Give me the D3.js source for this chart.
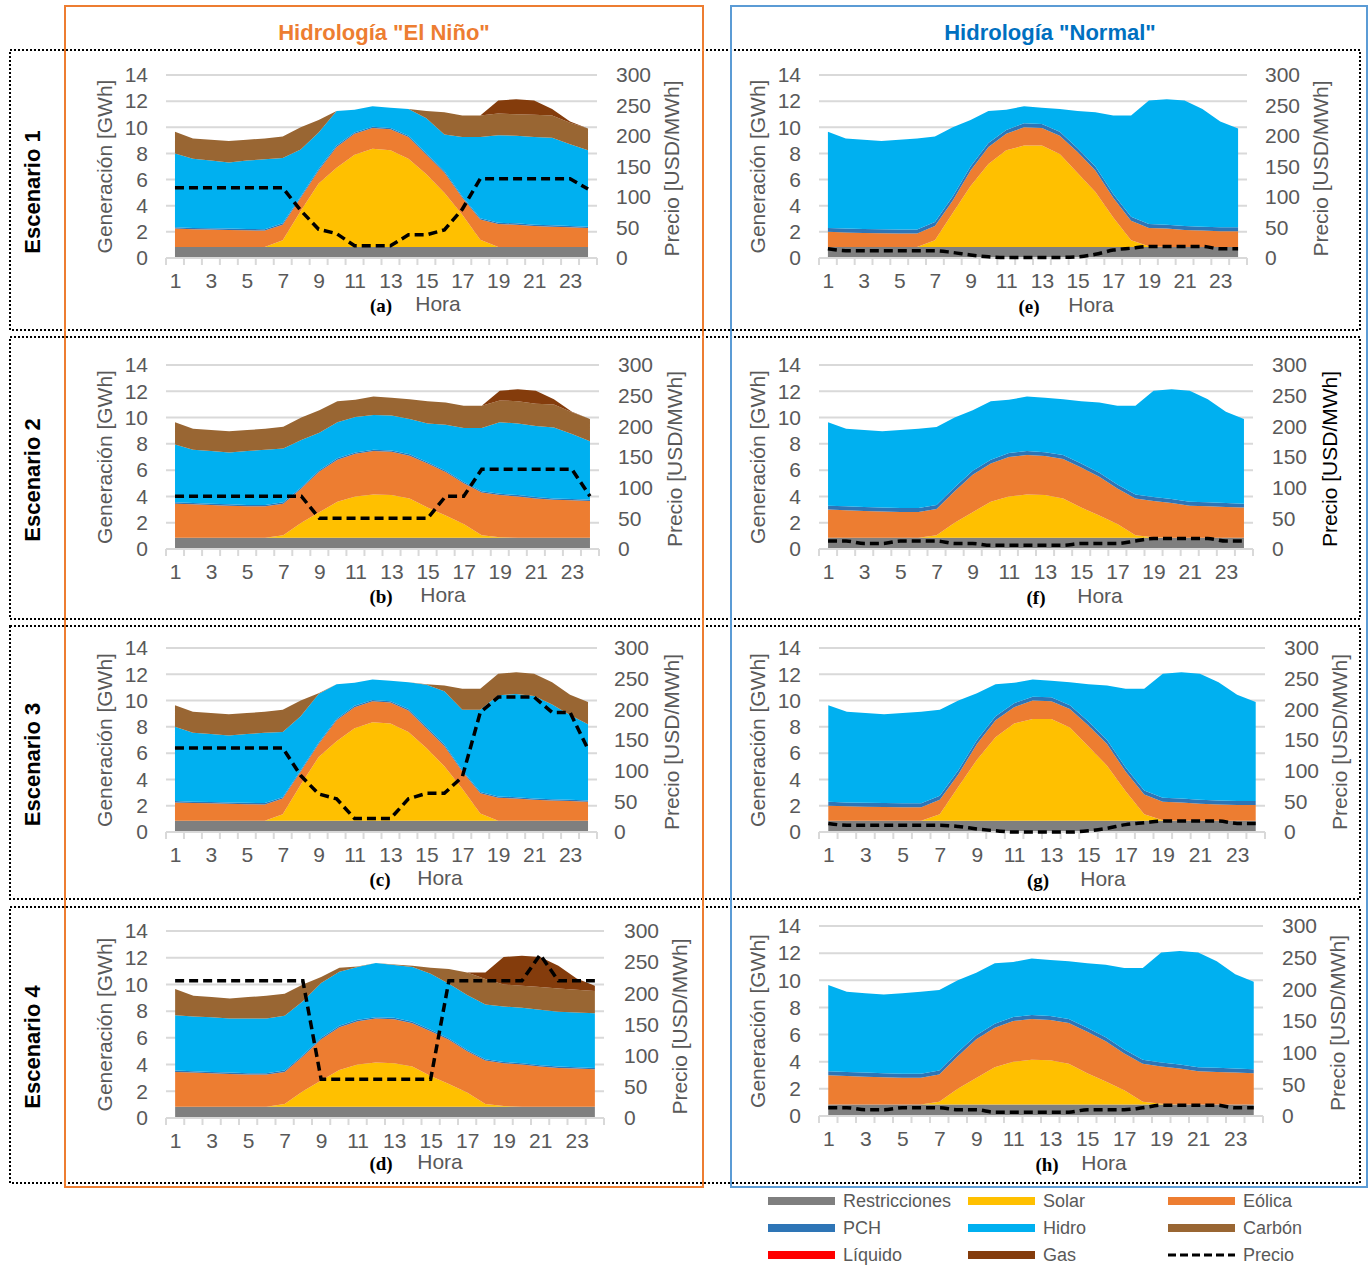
<!DOCTYPE html>
<html>
<head>
<meta charset="utf-8">
<script src="https://cdn.jsdelivr.net/npm/d3@7"></script>
<style>
  body { margin: 0; background: #fff; }
  text { font-family: "Liberation Sans", Arial, sans-serif; }
</style>
</head>
<body>
<div id="chart"></div>
<script>
// Horas del día (categorías)
const horas = [1,2,3,4,5,6,7,8,9,10,11,12,13,14,15,16,17,18,19,20,21,22,23,24];

// Generación [GWh] por tecnología
const restricciones = [0.85,0.85,0.85,0.85,0.85,0.85,0.85,0.85,0.85,0.85,0.85,0.85,0.85,0.85,0.85,0.85,0.85,0.85,0.85,0.85,0.85,0.85,0.85,0.85];
const solarNino   = [0,0,0,0,0,0,0.5,2.75,4.85,6.05,7.05,7.5,7.4,6.75,5.55,4.15,2.45,0.55,0,0,0,0,0,0];
const solarNormal = [0,0,0,0,0,0,0.5,2.6,4.65,6.35,7.4,7.75,7.75,7.1,5.65,4.2,2.25,0.5,0.05,0,0,0,0,0];
const solarBaja   = [0,0,0,0,0,0,0.2,1.15,1.95,2.75,3.15,3.3,3.25,3.0,2.3,1.7,1.05,0.2,0.05,0,0,0,0,0];

const eolicaA = [1.4,1.35,1.33,1.3,1.27,1.25,1.2,1.0,1.0,1.6,1.6,1.6,1.6,1.65,1.5,1.55,1.3,1.55,1.75,1.7,1.6,1.55,1.5,1.45];
const eolicaB = [2.6,2.55,2.5,2.45,2.4,2.4,2.4,2.6,3.1,3.2,3.25,3.3,3.3,3.25,3.35,3.3,3.1,3.25,3.2,3.15,3.0,2.9,2.85,2.8];
const eolicaE = [1.15,1.1,1.07,1.05,1.03,1.03,1.1,0.95,1.2,1.3,1.25,1.4,1.35,1.4,1.6,1.65,1.5,1.5,1.4,1.4,1.3,1.25,1.2,1.2];
const eolicaF = [2.15,2.1,2.05,2.0,1.97,1.97,2.0,2.4,2.85,2.9,3.0,3.0,2.97,3.0,3.05,2.95,2.7,2.8,2.75,2.65,2.45,2.4,2.35,2.3];

const pchNino   = [0.1,0.1,0.1,0.1,0.1,0.1,0.1,0.1,0.1,0.1,0.1,0.1,0.1,0.1,0.1,0.1,0.1,0.1,0.1,0.1,0.1,0.1,0.1,0.1];
const pchNormal = [0.3,0.3,0.3,0.3,0.3,0.3,0.3,0.3,0.3,0.3,0.3,0.3,0.3,0.3,0.3,0.3,0.3,0.3,0.3,0.3,0.3,0.3,0.3,0.3];

const hidroA = [5.65,5.3,5.17,5.05,5.23,5.35,5.0,3.6,2.8,2.65,1.75,1.55,1.55,2.05,2.7,2.8,4.55,6.2,6.7,6.7,6.7,6.7,6.25,5.85];
const hidroB = [4.4,4.05,4.0,3.95,4.1,4.2,4.1,3.6,2.85,2.75,2.7,2.65,2.65,2.7,2.95,3.5,4.1,4.8,5.45,5.45,5.4,5.4,4.95,4.45];
const hidroC = [5.65,5.25,5.17,5.1,5.23,5.35,4.95,4.1,3.7,2.65,1.75,1.55,1.55,2.05,3.2,4.05,4.6,6.25,7.7,7.85,7.8,7.2,6.45,5.8];
const hidroD = [4.15,4.1,4.1,4.05,4.1,4.1,4.1,4.05,4.1,4.05,3.95,4.05,3.95,4.1,4.2,4.1,4.1,4.1,4.15,4.15,4.15,4.1,4.1,4.1];
const hidroE = [7.35,6.9,6.83,6.75,6.87,6.97,6.55,5.3,3.55,2.45,1.55,1.3,1.25,1.75,2.85,4.15,6.0,7.75,9.45,9.6,9.6,9.0,8.1,7.55];
const hidroF = [6.35,5.9,5.85,5.8,5.93,6.03,5.93,5.3,4.6,4.45,4.05,4.15,4.13,4.25,4.75,5.35,6.0,6.75,8.1,8.35,8.45,7.85,6.95,6.45];

const carbonA = [1.65,1.55,1.6,1.65,1.6,1.6,1.65,1.7,0.95,0,0,0,0,0,0.55,1.7,1.65,1.65,1.65,1.65,1.7,1.7,1.65,1.65];
const carbonB = [1.7,1.6,1.6,1.6,1.6,1.6,1.65,1.7,1.7,1.6,1.3,1.4,1.35,1.5,1.7,1.7,1.7,1.7,1.65,1.7,1.7,1.75,1.65,1.7];
const carbonC = [1.65,1.6,1.6,1.6,1.6,1.6,1.7,1.2,0.05,0,0,0,0,0,0.05,0.45,1.6,1.6,1.65,1.65,1.7,1.7,1.55,1.7];
const carbonD = [1.95,1.55,1.5,1.5,1.6,1.7,1.65,1.25,0.45,0.3,0.05,0,0.05,0.1,0.45,1.1,1.7,1.9,1.65,1.65,1.7,1.75,1.7,1.65];

const gasA = [0,0,0,0,0,0,0,0,0,0,0,0,0,0,0,0,0,0,1.0,1.15,1.1,0.5,0.1,0];
const gasB = [0,0,0,0,0,0,0,0,0,0,0,0,0,0,0,0,0,0,0.75,0.9,1.0,0.4,0.05,0];
const gasD = [0,0,0,0,0,0,0,0,0,0,0,0,0,0,0,0,0,0.5,2.05,2.25,2.25,1.7,0.85,0.4];
const ceros = [0,0,0,0,0,0,0,0,0,0,0,0,0,0,0,0,0,0,0,0,0,0,0,0];

// Precio [USD/MWh]
const precioA = [115,115,115,115,115,115,115,78,47,40,20,20,20,38,38,46,80,130,130,130,130,130,130,113];
const precioB = [86,86,86,86,86,86,86,86,50,50,50,50,50,50,50,86,86,130,130,130,130,130,130,86];
const precioC = [137,137,137,137,137,137,137,92,62,54,22,22,22,54,63,63,90,195,220,220,220,195,195,135];
const precioD = [220,220,220,220,220,220,220,220,62,62,62,62,62,62,62,220,220,220,220,220,262,220,220,220];
const precioE = [15,12,12,12,12,12,12,9,5,2,1,1,1,1,2,6,13,16,19,19,19,19,15,15];
const precioF = [13,13,9,9,13,13,13,9,9,6,6,6,6,6,9,9,9,13,17,17,17,17,13,13];
const precioG = [14,11,11,11,11,11,11,9,5,2,0,0,0,0,2,6,12,15,18,18,18,18,14,14];
const precioH = [13,13,10,10,13,13,13,10,10,6,6,6,6,6,10,10,10,13,17,17,17,17,13,13];

// Tecnologías (orden de apilado) y colores
const claves = ["restricciones", "solar", "eolica", "pch", "hidro", "carbon", "liquido", "gas"];
const nombres = ["Restricciones", "Solar", "Eólica", "PCH", "Hidro", "Carbón", "Líquido", "Gas"];
const colores = {
    restricciones: "#7f7f7f", solar: "#ffc000", eolica: "#ed7d31", pch: "#2e75b6",
    hidro: "#00b0f0", carbon: "#996633", liquido: "#ff0000", gas: "#843c0c"
};
const ticksGen = [0, 2, 4, 6, 8, 10, 12, 14];
const ticksPrecio = [0, 50, 100, 150, 200, 250, 300];
const ticksHora = [1, 3, 5, 7, 9, 11, 13, 15, 17, 19, 21, 23];

const gris = "#595959";

// Paneles: posición + series
const paneles = [
    { letra: "(a)", xL: 166, xR: 597, yTop: 75, yBot: 258, izqX: 148, derX: 616, genX: 105, precioX: 672, letraX: 381, horaX: 438, textoY: 312,
      series: { restricciones, solar: solarNino, eolica: eolicaA, pch: pchNino, hidro: hidroA, carbon: carbonA, liquido: ceros, gas: gasA }, precio: precioA, suave: false },
    { letra: "(b)", xL: 166, xR: 599, yTop: 365, yBot: 549, izqX: 148, derX: 618, genX: 105, precioX: 675, letraX: 381, horaX: 443, textoY: 603,
      series: { restricciones, solar: solarBaja, eolica: eolicaB, pch: pchNino, hidro: hidroB, carbon: carbonB, liquido: ceros, gas: gasB }, precio: precioB, suave: false },
    { letra: "(c)", xL: 166, xR: 597, yTop: 648, yBot: 832, izqX: 148, derX: 614, genX: 105, precioX: 672, letraX: 380, horaX: 440, textoY: 886,
      series: { restricciones, solar: solarNino, eolica: eolicaA, pch: pchNino, hidro: hidroC, carbon: carbonC, liquido: ceros, gas: ceros }, precio: precioC, suave: false },
    { letra: "(d)", xL: 166, xR: 604, yTop: 931, yBot: 1118, izqX: 148, derX: 624, genX: 105, precioX: 680, letraX: 381, horaX: 440, textoY: 1170,
      series: { restricciones, solar: solarBaja, eolica: eolicaB, pch: pchNino, hidro: hidroD, carbon: carbonD, liquido: ceros, gas: gasD }, precio: precioD, suave: false },
    { letra: "(e)", xL: 819, xR: 1247, yTop: 75, yBot: 258, izqX: 801, derX: 1265, genX: 758, precioX: 1321, letraX: 1029, horaX: 1091, textoY: 313,
      series: { restricciones, solar: solarNormal, eolica: eolicaE, pch: pchNormal, hidro: hidroE, carbon: ceros, liquido: ceros, gas: ceros }, precio: precioE, suave: true },
    { letra: "(f)", xL: 819, xR: 1253, yTop: 365, yBot: 549, izqX: 801, derX: 1272, genX: 758, precioX: 1330, letraX: 1036, horaX: 1100, textoY: 604,
      series: { restricciones, solar: solarBaja, eolica: eolicaF, pch: pchNormal, hidro: hidroF, carbon: ceros, liquido: ceros, gas: ceros }, precio: precioF, suave: true, precioColor: "#000" },
    { letra: "(g)", xL: 819, xR: 1265, yTop: 648, yBot: 832, izqX: 801, derX: 1284, genX: 758, precioX: 1340, letraX: 1038, horaX: 1103, textoY: 887,
      series: { restricciones, solar: solarNormal, eolica: eolicaE, pch: pchNormal, hidro: hidroE, carbon: ceros, liquido: ceros, gas: ceros }, precio: precioG, suave: true },
    { letra: "(h)", xL: 819, xR: 1263, yTop: 926, yBot: 1116, izqX: 801, derX: 1282, genX: 758, precioX: 1338, letraX: 1047, horaX: 1104, textoY: 1171,
      series: { restricciones, solar: solarBaja, eolica: eolicaF, pch: pchNormal, hidro: hidroF, carbon: ceros, liquido: ceros, gas: ceros }, precio: precioH, suave: true }
];

const width = 1368, height = 1267;
const svg = d3.select("#chart").append("svg")
    .attr("width", width)
    .attr("height", height)
    .style("display", "block");

svg.append("rect").attr("width", width).attr("height", height).attr("fill", "#fff");

// Cajas punteadas de cada escenario
const filasEsc = [
    { nombre: "Escenario 1", y0: 50, y1: 330 },
    { nombre: "Escenario 2", y0: 337, y1: 619 },
    { nombre: "Escenario 3", y0: 626, y1: 899 },
    { nombre: "Escenario 4", y0: 907, y1: 1183 }
];
filasEsc.forEach(f => {
    svg.append("rect")
        .attr("x", 10).attr("y", f.y0)
        .attr("width", 1350).attr("height", f.y1 - f.y0)
        .attr("fill", "none").attr("stroke", "#000")
        .attr("stroke-width", 2).attr("stroke-dasharray", "2,2");
    svg.append("text")
        .attr("transform", `translate(40,${(f.y0 + f.y1) / 2 + 2}) rotate(-90)`)
        .attr("text-anchor", "middle")
        .style("font-size", "22px").style("font-weight", "bold")
        .text(f.nombre);
});

// Cajas de hidrología
svg.append("rect").attr("x", 65).attr("y", 6).attr("width", 638).attr("height", 1181)
    .attr("fill", "none").attr("stroke", "#ed7d31").attr("stroke-width", 2);
svg.append("rect").attr("x", 731).attr("y", 6).attr("width", 636).attr("height", 1181)
    .attr("fill", "none").attr("stroke", "#5b9bd5").attr("stroke-width", 2);
svg.append("text").attr("x", 384).attr("y", 40).attr("text-anchor", "middle")
    .style("font-size", "22px").style("font-weight", "bold").attr("fill", "#ed7d31")
    .text("Hidrología \"El Niño\"");
svg.append("text").attr("x", 1050).attr("y", 40).attr("text-anchor", "middle")
    .style("font-size", "22px").style("font-weight", "bold").attr("fill", "#0070c0")
    .text("Hidrología \"Normal\"");

function dibujarPanel(p) {
    const g = svg.append("g");
    const x = d3.scalePoint().domain(horas).range([p.xL, p.xR]).padding(0.5);
    const y = d3.scaleLinear().domain([0, 14]).range([p.yBot, p.yTop]);
    const y2 = d3.scaleLinear().domain([0, 300]).range([p.yBot, p.yTop]);
    const paso = x.step();

    // Líneas de cuadrícula
    g.selectAll("line.grid")
        .data(ticksGen.filter(t => t > 0))
        .join("line")
        .attr("class", "grid")
        .attr("x1", p.xL).attr("x2", p.xR)
        .attr("y1", d => y(d)).attr("y2", d => y(d))
        .attr("stroke", "#d9d9d9").attr("stroke-width", 2);

    // Áreas apiladas
    const filas = horas.map((h, i) => {
        const o = { hora: h };
        claves.forEach(k => { o[k] = p.series[k][i]; });
        return o;
    });
    const pila = d3.stack().keys(claves)(filas);
    const area = d3.area()
        .x(d => x(d.data.hora))
        .y0(d => y(d[0]))
        .y1(d => y(d[1]));
    g.selectAll("path.area")
        .data(pila)
        .join("path")
        .attr("class", "area")
        .attr("fill", d => colores[d.key])
        .attr("d", area);

    // Eje horizontal con marcas entre categorías
    g.append("line")
        .attr("x1", p.xL).attr("x2", p.xR)
        .attr("y1", p.yBot).attr("y2", p.yBot)
        .attr("stroke", "#d9d9d9").attr("stroke-width", 2);
    g.selectAll("line.marca")
        .data(d3.range(horas.length + 1))
        .join("line")
        .attr("class", "marca")
        .attr("x1", i => p.xL + i * paso).attr("x2", i => p.xL + i * paso)
        .attr("y1", p.yBot).attr("y2", p.yBot + 7)
        .attr("stroke", "#d9d9d9").attr("stroke-width", 2);

    const ejeX = g.append("g")
        .attr("transform", `translate(0,${p.yBot})`)
        .call(d3.axisBottom(x).tickValues(ticksHora).tickSize(0).tickPadding(15));
    ejeX.select(".domain").remove();

    const ejeY = g.append("g")
        .attr("transform", `translate(${p.izqX},0)`)
        .call(d3.axisLeft(y).tickValues(ticksGen).tickSize(0).tickPadding(0));
    ejeY.select(".domain").remove();

    const ejeY2 = g.append("g")
        .attr("transform", `translate(${p.derX},0)`)
        .call(d3.axisRight(y2).tickValues(ticksPrecio).tickSize(0).tickPadding(0));
    ejeY2.select(".domain").remove();

    g.selectAll(".tick text")
        .attr("fill", gris)
        .style("font-size", "21px")
        .style("font-family", "\"Liberation Sans\", Arial, sans-serif");

    // Línea de precio
    const linea = d3.line()
        .x((d, i) => x(horas[i]))
        .y(d => y2(d))
        .curve(p.suave ? d3.curveMonotoneX : d3.curveLinear);
    g.append("path")
        .datum(p.precio)
        .attr("fill", "none")
        .attr("stroke", "#000")
        .attr("stroke-width", 3.5)
        .attr("stroke-dasharray", "9,5")
        .attr("d", linea);

    // Títulos de ejes
    const centroY = (p.yTop + p.yBot) / 2;
    g.append("text")
        .attr("transform", `translate(${p.genX + 7},${centroY}) rotate(-90)`)
        .attr("text-anchor", "middle")
        .attr("fill", gris)
        .style("font-size", "21px")
        .text("Generación [GWh]");
    g.append("text")
        .attr("transform", `translate(${p.precioX + 7},${centroY + 2}) rotate(-90)`)
        .attr("text-anchor", "middle")
        .attr("fill", p.precioColor || gris)
        .style("font-size", "21px")
        .text("Precio [USD/MWh]");
    g.append("text")
        .attr("x", p.letraX).attr("y", p.textoY)
        .attr("text-anchor", "middle")
        .style("font-family", "\"Liberation Serif\", \"Times New Roman\", serif")
        .style("font-weight", "bold")
        .style("font-size", "19px")
        .text(p.letra);
    g.append("text")
        .attr("x", p.horaX).attr("y", p.textoY - 1)
        .attr("text-anchor", "middle")
        .attr("fill", gris)
        .style("font-size", "21px")
        .text("Hora");
}

paneles.forEach(dibujarPanel);

// Leyenda
const leyenda = [
    { clave: "restricciones", col: 0, fila: 0 }, { clave: "solar", col: 1, fila: 0 }, { clave: "eolica", col: 2, fila: 0 },
    { clave: "pch", col: 0, fila: 1 }, { clave: "hidro", col: 1, fila: 1 }, { clave: "carbon", col: 2, fila: 1 },
    { clave: "liquido", col: 0, fila: 2 }, { clave: "gas", col: 1, fila: 2 }, { clave: "precio", col: 2, fila: 2 }
];
const gl = svg.append("g");
leyenda.forEach(l => {
    const lx = 768 + l.col * 200;
    const ly = 1201 + l.fila * 27;
    if (l.clave === "precio") {
        gl.append("line")
            .attr("x1", lx).attr("x2", lx + 67)
            .attr("y1", ly).attr("y2", ly)
            .attr("stroke", "#000").attr("stroke-width", 3)
            .attr("stroke-dasharray", "8,4");
    } else {
        gl.append("rect")
            .attr("x", lx).attr("y", ly - 4)
            .attr("width", 67).attr("height", 8)
            .attr("fill", colores[l.clave]);
    }
    gl.append("text")
        .attr("x", lx + 75).attr("y", ly + 6)
        .attr("fill", gris)
        .style("font-size", "18px")
        .text(l.clave === "precio" ? "Precio" : nombres[claves.indexOf(l.clave)]);
});
</script>
</body>
</html>
